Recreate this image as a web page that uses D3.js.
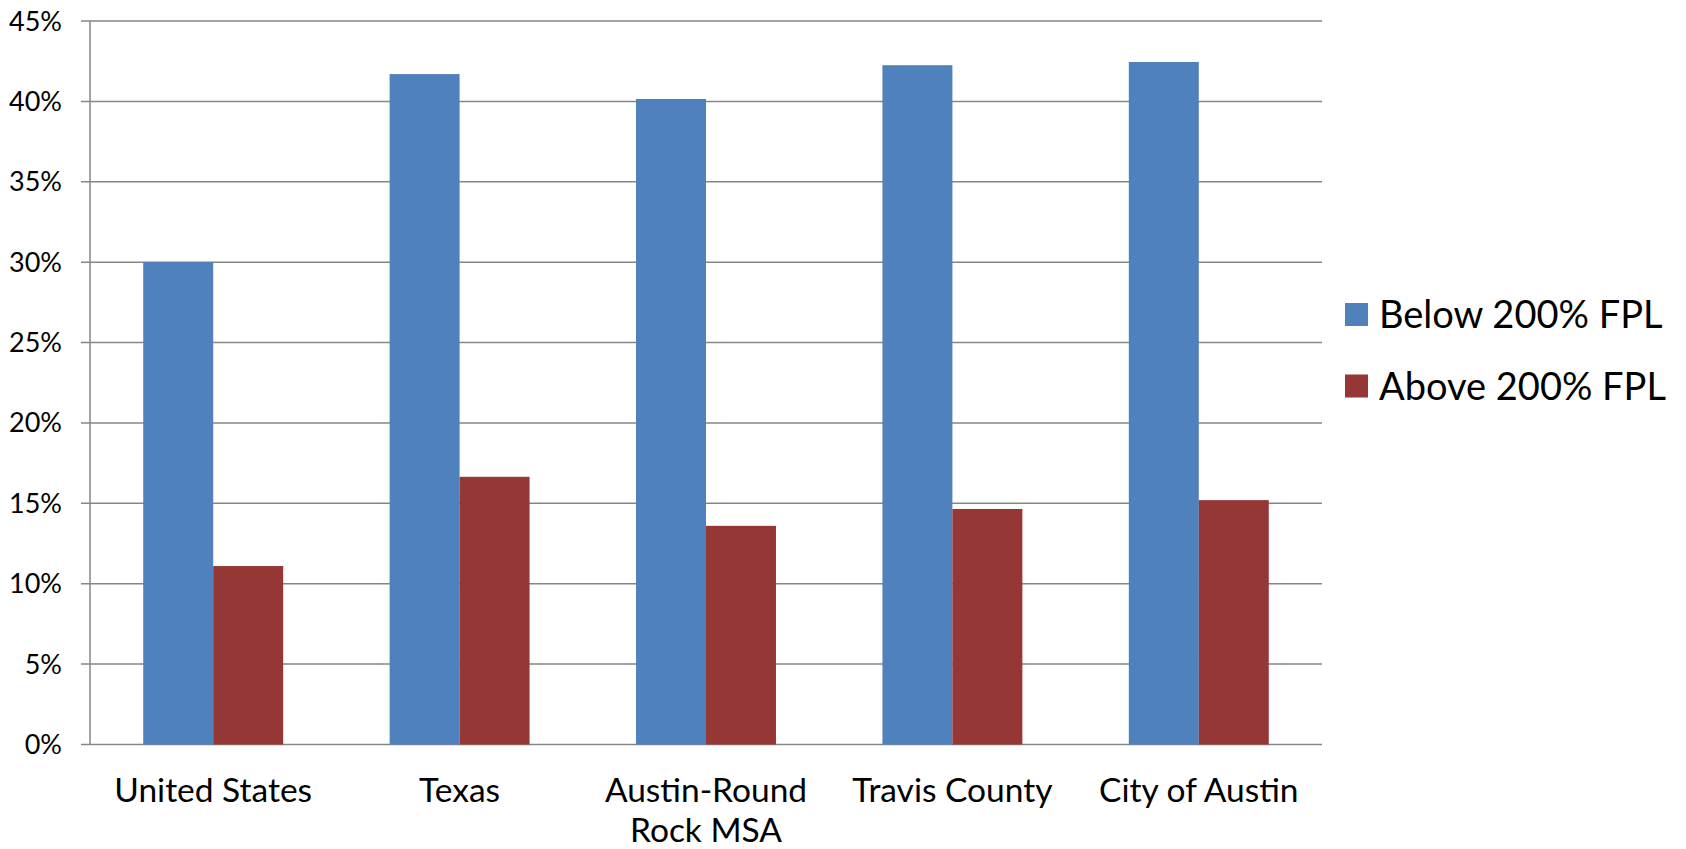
<!DOCTYPE html>
<html>
<head>
<meta charset="utf-8">
<script src="https://cdn.jsdelivr.net/npm/d3@7"></script>
<style>
  body { margin: 0; background: #fff; }
  text { font-family: Lato, "Open Sans", sans-serif; fill: #000; }
</style>
</head>
<body>
<div id="container"></div>
<script>
let w = 1686;
let h = 849;

// data
let categories = ["United States", "Texas", "Austin-Round Rock MSA", "Travis County", "City of Austin"];
let labelLines = [["United States"], ["Texas"], ["Austin-Round", "Rock MSA"], ["Travis County"], ["City of Austin"]];
let seriesNames = ["Below 200% FPL", "Above 200% FPL"];
let below = [30.0, 41.7, 40.15, 42.25, 42.45];
let above = [11.1, 16.65, 13.6, 14.65, 15.2];
let yTicks = [0, 5, 10, 15, 20, 25, 30, 35, 40, 45];
let colors = ["#4F81BD", "#953735"];

let plotLeft = 90, plotRight = 1322, plotTop = 21, plotBottom = 744.5;

let viz = d3.select("#container").append("svg")
    .attr("width", w)
    .attr("height", h);

let x0 = d3.scaleBand().domain(categories).range([plotLeft, plotRight]).paddingInner(0.432).paddingOuter(0.216);
let x1 = d3.scaleBand().domain([0, 1]).range([0, x0.bandwidth()]);
let y = d3.scaleLinear().domain([0, 45]).range([plotBottom, plotTop]);

// gridlines + ticks
let grid = viz.append("g").attr("class", "grid");
grid.selectAll("line").data(yTicks).enter().append("line")
  .attr("x1", plotLeft - 9).attr("x2", plotRight)
  .attr("y1", d => y(d)).attr("y2", d => y(d))
  .attr("stroke", "#868686").attr("stroke-width", 1.5);

grid.selectAll("text").data(yTicks).enter().append("text")
  .attr("x", 62).attr("y", d => y(d) + 9.5)
  .attr("text-anchor", "end")
  .style("font-size", "27px")
  .text(d => d + "%");

viz.append("line")
  .attr("x1", plotLeft).attr("x2", plotLeft).attr("y1", plotTop).attr("y2", plotBottom)
  .attr("stroke", "#868686").attr("stroke-width", 1.5);

// bars
let data = categories.map((c, i) => ({cat: c, vals: [below[i], above[i]]}));
let groups = viz.selectAll(".datagroup").data(data).enter().append("g")
  .attr("class", "datagroup")
  .attr("transform", d => "translate(" + x0(d.cat) + ",0)");

groups.selectAll("rect").data(d => d.vals).enter().append("rect")
  .attr("x", (d, i) => x1(i))
  .attr("y", d => y(d))
  .attr("width", x1.bandwidth())
  .attr("height", d => plotBottom - y(d))
  .attr("fill", (d, i) => colors[i]);

// category labels
let labels = viz.append("g").selectAll("text").data(categories).enter().append("text")
  .attr("text-anchor", "middle")
  .attr("x", d => x0(d) + x0.bandwidth() / 2)
  .attr("y", 802)
  .style("font-size", "33.5px");
labels.selectAll("tspan").data((d, i) => labelLines[i]).enter().append("tspan")
  .attr("x", function () { return d3.select(this.parentNode).attr("x"); })
  .attr("dy", (d, i) => i == 0 ? 0 : 40)
  .text(d => d);

// legend
let legend = viz.append("g").selectAll("g").data(seriesNames).enter().append("g")
  .attr("transform", (d, i) => "translate(1345," + (303 + i * 71.5) + ")");
legend.append("rect").attr("width", 23).attr("height", 23).attr("fill", (d, i) => colors[i]);
legend.append("text").attr("x", 34).attr("y", 25).style("font-size", "38px").text(d => d);
</script>
</body>
</html>
